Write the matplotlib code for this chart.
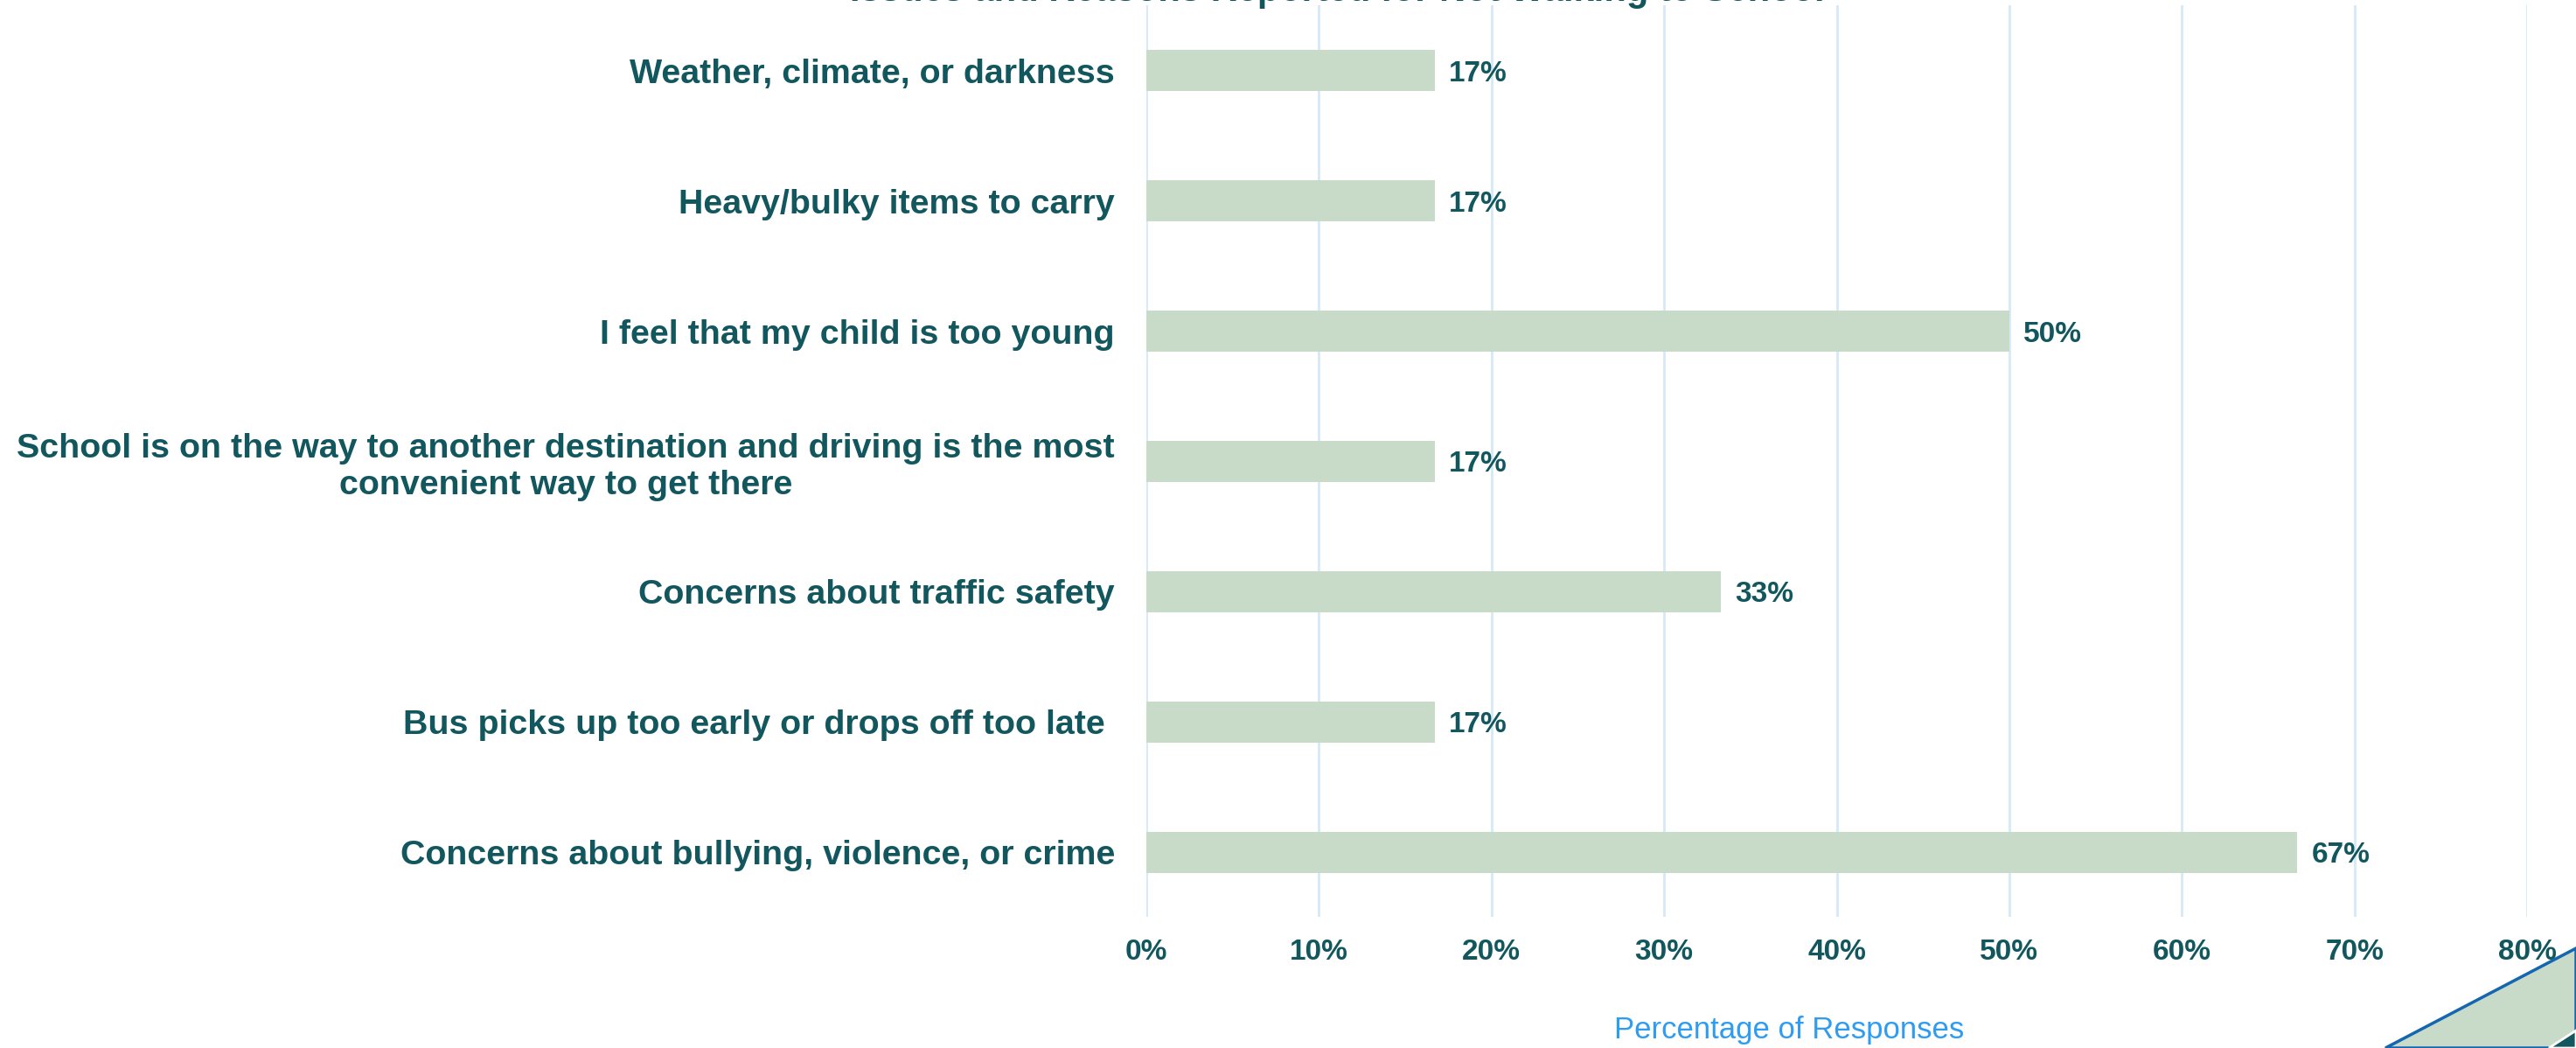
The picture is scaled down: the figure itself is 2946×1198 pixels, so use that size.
import matplotlib.pyplot as plt
from matplotlib.patches import Polygon

# Survey responses
categories = [
    "Weather, climate, or darkness",
    "Heavy/bulky items to carry",
    "I feel that my child is too young",
    "School is on the way to another destination and driving is the most\nconvenient way to get there",
    "Concerns about traffic safety",
    "Bus picks up too early or drops off too late ",
    "Concerns about bullying, violence, or crime",
]
shares = [16.7, 16.7, 50.0, 16.7, 33.3, 16.7, 66.7]
value_labels = ["17%", "17%", "50%", "17%", "33%", "17%", "67%"]
x_ticks = [0, 10, 20, 30, 40, 50, 60, 70, 80]

teal = "#12565e"
bar_green = "#c8dbc9"
grid_blue = "#d6e9f8"

plt.rcParams['font.family'] = ['Liberation Sans', 'DejaVu Sans']

W, H = 2946, 1198
fig = plt.figure(figsize=(W / 100, H / 100), dpi=100)
ax = fig.add_axes([1311 / W, 0.1248, (2890 - 1311) / W, 0.8698])

pos = list(range(len(categories)))[::-1]
ax.barh(pos, shares, height=0.315, color=bar_green, zorder=2)

for y, v, lab in zip(pos, shares, value_labels):
    ax.text(v + 0.8, y, lab, va='center_baseline', ha='left', fontsize=24,
            fontweight='bold', color=teal)

ax.set_xlim(0, 80)
ax.set_ylim(-0.5, len(categories) - 0.5)
ax.set_xticks(x_ticks)
ax.set_xticklabels([f"{t}%" for t in x_ticks], fontsize=24,
                   fontweight='bold', color=teal)
ax.set_yticks(pos)
ax.set_yticklabels(categories, fontsize=28.4, fontweight='bold', color=teal,
                   multialignment='center')
ax.tick_params(axis='x', length=0, pad=18)
ax.tick_params(axis='y', length=0, pad=26)
ax.grid(axis='x', color=grid_blue, linewidth=2, zorder=0)
ax.set_axisbelow(True)
for s in ax.spines.values():
    s.set_visible(False)

ax.set_xlabel("Percentage of Responses", fontsize=25, color="#2e9cf0")
ax.xaxis.set_label_coords(0.4655, -0.124)
ax.xaxis.label.set_va('center')

# Title sits at the very top edge of the canvas
fig.text(0.519, 1 - 1 / H, "Issues and Reasons Reported for Not Walking to School",
         ha='center', va='baseline', fontsize=30, fontweight='bold', color=teal)

# Corner decoration
band = Polygon([(2728, 0), (W, 1198 - 1084), (W, 0)], closed=True,
               transform=None, facecolor=bar_green, edgecolor="#1466b0",
               linewidth=2.5)
dark = Polygon([(2915, 0), (W, 1198 - 1178), (W, 0)], closed=True,
               transform=None, facecolor=teal, edgecolor='white', linewidth=2)
fig.patches.extend([band, dark])

fig.savefig("out.png", dpi=100)
